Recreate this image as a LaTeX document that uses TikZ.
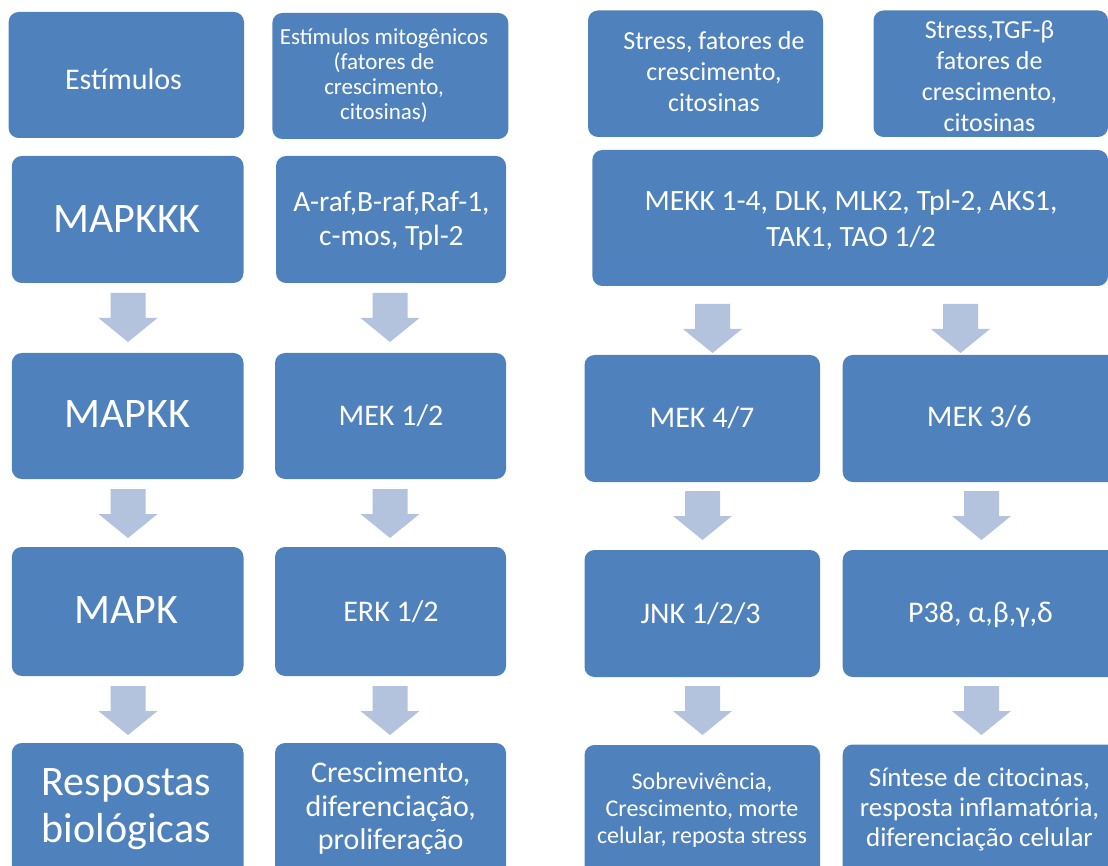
\documentclass[tikz,border=0pt]{standalone}
\usepackage{fontspec}
\setmainfont{Carlito}
\usetikzlibrary{fit}
\definecolor{boxblue}{HTML}{4F81BD}
\definecolor{arrowblue}{HTML}{B3C2DD}
\tikzset{
  box/.style={fill=boxblue, rounded corners=10pt, inner sep=0pt, outer sep=0pt},
  lbl/.style={text=white, align=center, anchor=base, inner sep=0pt},
  blockarrow/.style={fill=arrowblue},
  fsA/.style={font=\fontsize{42}{47.7}\selectfont},
  fsB/.style={font=\fontsize{30}{33.3}\selectfont},
}
\newcommand\downblock[1]{%
  \fill[blockarrow] (#1) ++(-17.5,0) -- ++(35,0) -- ++(0,25) -- ++(12,0)
    -- ++(-29.5,24) -- ++(-29.5,-24) -- ++(12,0) -- cycle;}
\begin{document}
\begin{tikzpicture}[x=1pt,y=-1pt]
\useasboundingbox (0,0) rectangle (1108,866);
\clip (0,0) rectangle (1108,866);
% boxes, column 1
\node[box, fit={(8.6,12) (244,138)}] (b11) {};
\node[box, fit={(11.8,156) (243.5,283)}] (b12) {};
\node[box, fit={(11.8,353) (243.5,479)}] (b13) {};
\node[box, fit={(11.8,547) (243.5,676)}] (b14) {};
\node[box, fit={(11.8,743) (243.5,880)}] (b15) {};
% column 2
\node[box, fit={(272.3,13) (508.3,139)}] (b21) {};
\node[box, fit={(276,156) (506,283)}] (b22) {};
\node[box, fit={(275,353) (506,479)}] (b23) {};
\node[box, fit={(275,547) (506,676)}] (b24) {};
\node[box, fit={(275,743) (506,880)}] (b25) {};
% column 3
\node[box, fit={(588,10.5) (823,137)}] (b31) {};
\node[box, fit={(592.3,150) (1108,286)}] (b32) {};
\node[box, fit={(584.5,355) (820,482)}] (b33) {};
\node[box, fit={(584.5,550) (820,677)}] (b34) {};
\node[box, fit={(584.5,745) (820,880)}] (b35) {};
% column 4
\node[box, fit={(873.5,10.5) (1108,137)}] (b41) {};
\node[box, fit={(842.7,355) (1118,482)}] (b43) {};
\node[box, fit={(842.7,550) (1118,677)}] (b44) {};
\node[box, fit={(842.7,744.5) (1118,880)}] (b45) {};
% texts (base = baseline of last line)
\node[lbl, font=\fontsize{30}{36}\selectfont] (t11) at (123.5,90) {Estímulos};
\node[lbl, fsA] (t12) at (127,232.3) {MAPKKK};
\node[lbl, fsA] (t13) at (127.3,427.3) {MAPKK};
\node[lbl, fsA] (t14) at (126.4,623.3) {MAPK};
\node[lbl, fsA] (t15) at (126.4,842.7) {Respostas\\biológicas};
\node[lbl, font=\fontsize{23}{24.7}\selectfont] (t21) at (384,119.1) {Estímulos mitogênicos\\(fatores de\\crescimento,\\citosinas)};
\node[lbl, font=\fontsize{29.4}{34.3}\selectfont] (t22) at (391.4,246) {A-raf,B-raf,Raf-1,\\c-mos, Tpl-2};
\node[lbl, fsB] (t23) at (391,425) {MEK 1/2};
\node[lbl, fsB] (t24) at (391,621) {ERK 1/2};
\node[lbl, fsB] (t25) at (390.7,849.3) {Crescimento,\\diferenciação,\\proliferação};
\node[lbl, font=\fontsize{26}{31}\selectfont] (t31) at (714,112) {Stress, fatores de\\crescimento,\\citosinas};
\node[lbl, font=\fontsize{29.5}{36}\selectfont] (t32) at (851,246.7) {MEKK 1-4, DLK, MLK2, Tpl-2, AKS1,\\TAK1, TAO 1/2};
\node[lbl, fsB] (t33) at (702,427) {MEK 4/7};
\node[lbl, fsB] (t34) at (700.6,623.3) {JNK 1/2/3};
\node[lbl, font=\fontsize{24}{27}\selectfont] (t35) at (702,843) {Sobrevivência,\\Crescimento, morte\\celular, reposta stress};
\node[lbl, font=\fontsize{26}{31}\selectfont] (t41) at (989.5,131.3) {Stress,TGF-β\\fatores de\\crescimento,\\citosinas};
\node[lbl, fsB] (t43) at (979.3,426.7) {MEK 3/6};
\node[lbl, fsB] (t44) at (980.5,622.7) {P38, α,β,γ,δ};
\node[lbl, font=\fontsize{27}{30}\selectfont] (t45) at (979.5,846.5) {Síntese de citocinas,\\resposta inflamatória,\\diferenciação celular};
% block arrows
\coordinate (a12) at (128,293);
\coordinate (a13) at (128,489);
\coordinate (a14) at (128,686);
\coordinate (a22) at (390,293);
\coordinate (a23) at (390,489);
\coordinate (a24) at (390,686);
\coordinate (a32) at (712.5,304);
\coordinate (a33) at (702.5,491);
\coordinate (a34) at (702.5,686);
\coordinate (a42) at (960.5,304);
\coordinate (a43) at (981.5,491);
\coordinate (a44) at (981.5,686);
\downblock{a12}\downblock{a13}\downblock{a14}
\downblock{a22}\downblock{a23}\downblock{a24}
\downblock{a32}\downblock{a33}\downblock{a34}
\downblock{a42}\downblock{a43}\downblock{a44}
\end{tikzpicture}
\end{document}
